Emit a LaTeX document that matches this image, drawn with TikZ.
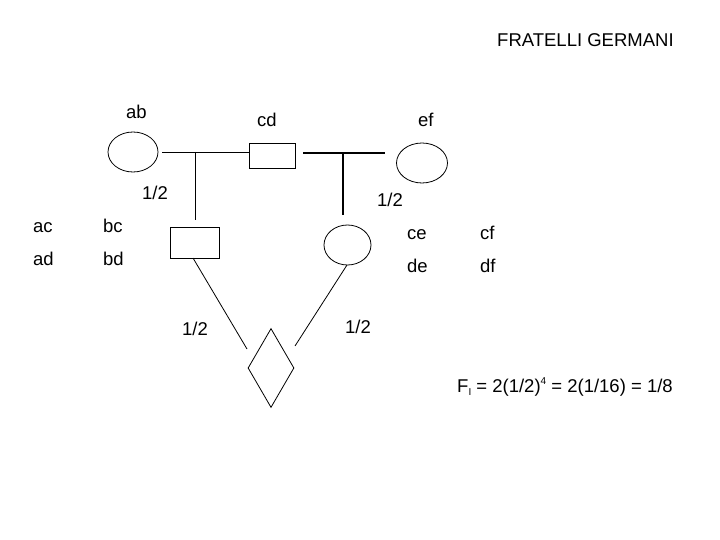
\documentclass[tikz,border=0pt]{standalone}
\usepackage{fontspec}
\setmainfont{Liberation Sans}
\usetikzlibrary{shapes.geometric}
\begin{document}
\begin{tikzpicture}[x=1pt,y=-1pt,
  lbl/.style={font=\fontsize{18.5}{22}\selectfont, inner sep=0pt, anchor=base west},
  fem/.style={draw, ellipse, inner sep=0pt, line width=0.8pt},
  mal/.style={draw, rectangle, inner sep=0pt, line width=0.8pt},
  thin/.style={line width=0.8pt},
  thick2/.style={line width=1.6pt}]
\useasboundingbox (0,0) rectangle (720,540);
% title
\node[lbl] (title) at (497,47) {FRATELLI GERMANI};
% parents
\node[fem, minimum width=50pt, minimum height=40pt] (ab) at (133,152) {};
\node[mal, minimum width=46pt, minimum height=25pt] (cd) at (272,155.5) {};
\node[fem, minimum width=51pt, minimum height=40pt] (ef) at (422,163) {};
\node[lbl] (tab) at (126,119) {ab};
\node[lbl] (tcd) at (257,127) {cd};
\node[lbl] (tef) at (418,127) {ef};
% children
\node[mal, minimum width=49pt, minimum height=31pt] (bc) at (194.5,242.5) {};
\node[fem, minimum width=47pt, minimum height=40pt] (ce) at (347.5,245) {};
\node[draw, diamond, inner sep=0pt, minimum width=46pt, minimum height=79pt, line width=0.8pt] (I) at (271,368) {};
% marriage lines
\coordinate (m1) at (195,152);
\coordinate (m2) at (343,153);
\draw[thin] (ab.east) ++(4,0) -- (cd.west |- m1);
\draw[thin] (m1) -- (195,220) coordinate (d1);
\draw[thick2] (cd.east |- m2) ++(8,0) -- (385,153) coordinate (e2);
\draw[thick2] (m2) -- (343,215) coordinate (d2);
% lines to diamond
\coordinate (p1) at (247,349);
\coordinate (p2) at (295,346);
\draw[thin] (193,258) -- (p1);
\draw[thin] (347,265) -- (p2);
% probabilities
\node[lbl] (h1) at (142,200) {1/2};
\node[lbl] (h2) at (377,207) {1/2};
\node[lbl] (h3) at (182,335) {1/2};
\node[lbl] (h4) at (345,333) {1/2};
% genotypes
\node[lbl] (g1) at (33,233) {ac};
\node[lbl] (g2) at (103,233) {bc};
\node[lbl] (g3) at (33,265) {ad};
\node[lbl] (g4) at (103,265) {bd};
\node[lbl] (g5) at (407,240) {ce};
\node[lbl] (g6) at (480,240) {cf};
\node[lbl] (g7) at (407,272) {de};
\node[lbl] (g8) at (480,272) {df};
% formula
\node[lbl] (f) at (457,392) {F\raisebox{-0.35ex}{\fontsize{10}{10}\selectfont I} = 2(1/2)\raisebox{0.75ex}{\fontsize{10}{10}\selectfont 4} = 2(1/16) = 1/8};
\end{tikzpicture}
\end{document}
